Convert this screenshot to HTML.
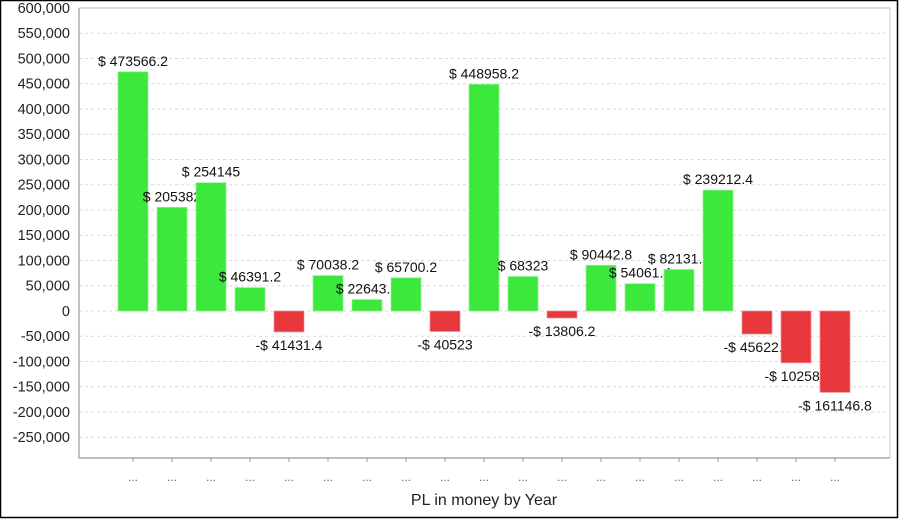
<!DOCTYPE html>
<html><head><meta charset="utf-8"><style>
html,body{margin:0;padding:0;background:#fff}
svg{display:block}
text{font-family:"Liberation Sans",Arial,sans-serif}
</style></head><body>
<svg width="900" height="519" viewBox="0 0 900 519" xmlns="http://www.w3.org/2000/svg">
<rect x="0.5" y="0.5" width="897" height="517" fill="#fff" stroke="#000" stroke-width="1.5"/>
<g stroke="#d8d8d8" stroke-dasharray="3,3" stroke-width="1">
<line x1="79" x2="890" y1="33.25" y2="33.25"/><line x1="79" x2="890" y1="58.5" y2="58.5"/>
<line x1="79" x2="890" y1="83.75" y2="83.75"/><line x1="79" x2="890" y1="109" y2="109"/>
<line x1="79" x2="890" y1="134.25" y2="134.25"/><line x1="79" x2="890" y1="159.5" y2="159.5"/>
<line x1="79" x2="890" y1="184.75" y2="184.75"/><line x1="79" x2="890" y1="210" y2="210"/>
<line x1="79" x2="890" y1="235.25" y2="235.25"/><line x1="79" x2="890" y1="260.5" y2="260.5"/>
<line x1="79" x2="890" y1="285.75" y2="285.75"/><line x1="79" x2="890" y1="311" y2="311"/>
<line x1="79" x2="890" y1="336.25" y2="336.25"/><line x1="79" x2="890" y1="361.5" y2="361.5"/>
<line x1="79" x2="890" y1="386.75" y2="386.75"/><line x1="79" x2="890" y1="412" y2="412"/>
<line x1="79" x2="890" y1="437.25" y2="437.25"/>
</g>
<line x1="79" y1="8" x2="890" y2="8" stroke="#bbb"/>
<line x1="890" y1="8" x2="890" y2="458" stroke="#ccc"/>
<g font-size="14.5" fill="#222" text-anchor="end">
<text x="70" y="13">600,000</text><text x="70" y="38.2">550,000</text><text x="70" y="63.5">500,000</text>
<text x="70" y="88.7">450,000</text><text x="70" y="114">400,000</text><text x="70" y="139.2">350,000</text>
<text x="70" y="164.5">300,000</text><text x="70" y="189.7">250,000</text><text x="70" y="215">200,000</text>
<text x="70" y="240.2">150,000</text><text x="70" y="265.5">100,000</text><text x="70" y="290.7">50,000</text>
<text x="70" y="316">0</text><text x="70" y="341.2">-50,000</text><text x="70" y="366.5">-100,000</text>
<text x="70" y="391.7">-150,000</text><text x="70" y="417">-200,000</text><text x="70" y="442.2">-250,000</text>
</g>
<g font-size="14" fill="#111" text-anchor="middle">
<rect x="118" y="71.8" width="30" height="239.2" fill="#3de83d" stroke="#8ff08f" stroke-width="0.7"/><text x="133" y="65.8">$ 473566.2</text>
<rect x="157" y="207.3" width="30" height="103.7" fill="#3de83d" stroke="#8ff08f" stroke-width="0.7"/><text x="172" y="201.3">$ 205382</text>
<rect x="196" y="182.7" width="30" height="128.3" fill="#3de83d" stroke="#8ff08f" stroke-width="0.7"/><text x="211" y="176.7">$ 254145</text>
<rect x="235" y="287.6" width="30" height="23.4" fill="#3de83d" stroke="#8ff08f" stroke-width="0.7"/><text x="250" y="281.6">$ 46391.2</text>
<rect x="274" y="311" width="30" height="20.9" fill="#e8383d" stroke="#f09090" stroke-width="0.7"/><text x="289" y="349.9">-$ 41431.4</text>
<rect x="313" y="275.6" width="30" height="35.4" fill="#3de83d" stroke="#8ff08f" stroke-width="0.7"/><text x="328" y="269.6">$ 70038.2</text>
<rect x="352" y="299.6" width="30" height="11.4" fill="#3de83d" stroke="#8ff08f" stroke-width="0.7"/><text x="367" y="293.6">$ 22643.8</text>
<rect x="391" y="277.8" width="30" height="33.2" fill="#3de83d" stroke="#8ff08f" stroke-width="0.7"/><text x="406" y="271.8">$ 65700.2</text>
<rect x="430" y="311" width="30" height="20.5" fill="#e8383d" stroke="#f09090" stroke-width="0.7"/><text x="445" y="349.5">-$ 40523</text>
<rect x="469" y="84.3" width="30" height="226.7" fill="#3de83d" stroke="#8ff08f" stroke-width="0.7"/><text x="484" y="78.3">$ 448958.2</text>
<rect x="508" y="276.5" width="30" height="34.5" fill="#3de83d" stroke="#8ff08f" stroke-width="0.7"/><text x="523" y="270.5">$ 68323</text>
<rect x="547" y="311" width="30" height="7" fill="#e8383d" stroke="#f09090" stroke-width="0.7"/><text x="562" y="336">-$ 13806.2</text>
<rect x="586" y="265.3" width="30" height="45.7" fill="#3de83d" stroke="#8ff08f" stroke-width="0.7"/><text x="601" y="259.3">$ 90442.8</text>
<rect x="625" y="283.7" width="30" height="27.3" fill="#3de83d" stroke="#8ff08f" stroke-width="0.7"/><text x="640" y="277.7">$ 54061.4</text>
<rect x="664" y="269.5" width="30" height="41.5" fill="#3de83d" stroke="#8ff08f" stroke-width="0.7"/><text x="679" y="263.5">$ 82131.8</text>
<rect x="703" y="190.2" width="30" height="120.8" fill="#3de83d" stroke="#8ff08f" stroke-width="0.7"/><text x="718" y="184.2">$ 239212.4</text>
<rect x="742" y="311" width="30" height="23" fill="#e8383d" stroke="#f09090" stroke-width="0.7"/><text x="757" y="352">-$ 45622.6</text>
<rect x="781" y="311" width="30" height="51.8" fill="#e8383d" stroke="#f09090" stroke-width="0.7"/><text x="796" y="380.8">-$ 102580</text>
<rect x="820" y="311" width="30" height="81.4" fill="#e8383d" stroke="#f09090" stroke-width="0.7"/><text x="835" y="410.4">-$ 161146.8</text>
</g>
<line x1="79" y1="8" x2="79" y2="458" stroke="#999" stroke-width="1.2"/>
<line x1="79" y1="458" x2="890" y2="458" stroke="#999" stroke-width="1.2"/>
<g stroke="#999">
<line x1="133" x2="133" y1="458" y2="462"/><line x1="172" x2="172" y1="458" y2="462"/><line x1="211" x2="211" y1="458" y2="462"/>
<line x1="250" x2="250" y1="458" y2="462"/><line x1="289" x2="289" y1="458" y2="462"/><line x1="328" x2="328" y1="458" y2="462"/>
<line x1="367" x2="367" y1="458" y2="462"/><line x1="406" x2="406" y1="458" y2="462"/><line x1="445" x2="445" y1="458" y2="462"/>
<line x1="484" x2="484" y1="458" y2="462"/><line x1="523" x2="523" y1="458" y2="462"/><line x1="562" x2="562" y1="458" y2="462"/>
<line x1="601" x2="601" y1="458" y2="462"/><line x1="640" x2="640" y1="458" y2="462"/><line x1="679" x2="679" y1="458" y2="462"/>
<line x1="718" x2="718" y1="458" y2="462"/><line x1="757" x2="757" y1="458" y2="462"/><line x1="796" x2="796" y1="458" y2="462"/>
<line x1="835" x2="835" y1="458" y2="462"/>
</g>
<g font-size="12" fill="#666" text-anchor="middle">
<text x="133" y="481">...</text><text x="172" y="481">...</text><text x="211" y="481">...</text><text x="250" y="481">...</text>
<text x="289" y="481">...</text><text x="328" y="481">...</text><text x="367" y="481">...</text><text x="406" y="481">...</text>
<text x="445" y="481">...</text><text x="484" y="481">...</text><text x="523" y="481">...</text><text x="562" y="481">...</text>
<text x="601" y="481">...</text><text x="640" y="481">...</text><text x="679" y="481">...</text><text x="718" y="481">...</text>
<text x="757" y="481">...</text><text x="796" y="481">...</text><text x="835" y="481">...</text>
</g>
<text x="484" y="505" font-size="16" fill="#222" text-anchor="middle">PL in money by Year</text>
</svg>
</body></html>
